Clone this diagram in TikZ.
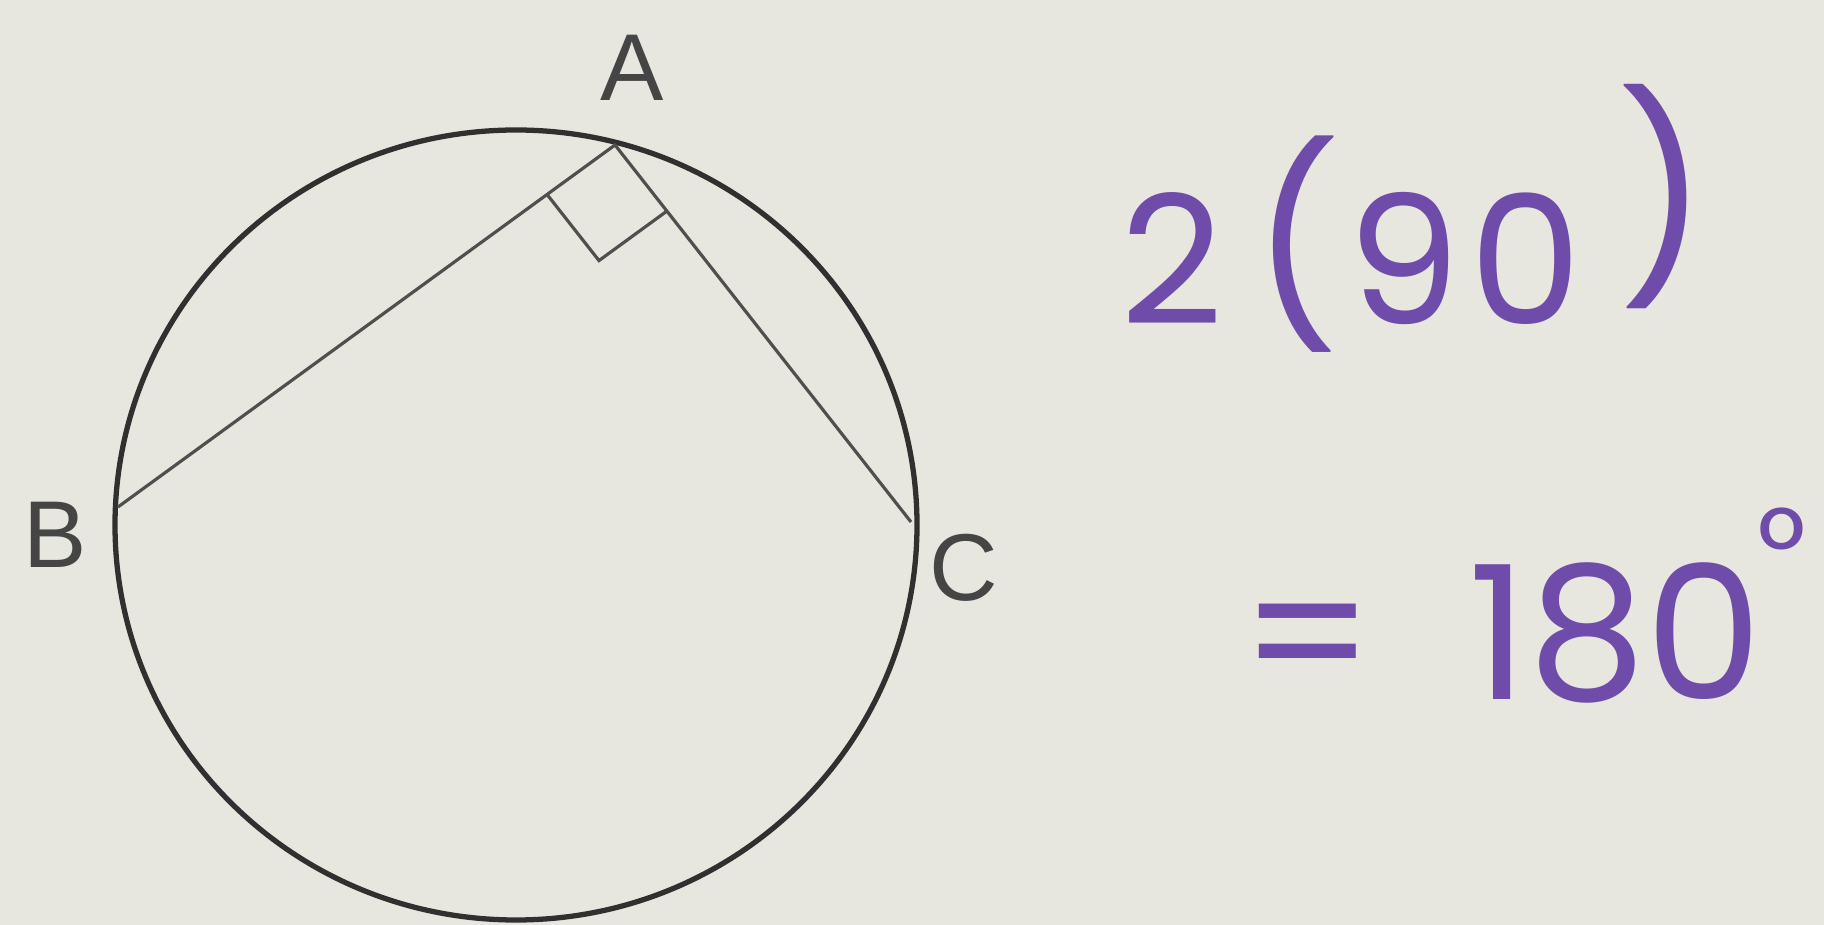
\documentclass[tikz,border=0pt]{standalone}
\usepackage{fontspec}
\setmainfont{Liberation Sans}
\newfontfamily\handfont{Poppins}
\usetikzlibrary{calc}
\definecolor{paper}{RGB}{231,231,223}
\definecolor{ink}{RGB}{48,48,48}
\definecolor{pen}{RGB}{112,76,170}
\tikzset{
  rim/.style={draw=ink, line width=1.5pt},
  chord/.style={draw=ink!85, line width=0.9pt},
  lbl/.style={text=ink!90, inner sep=0pt, font=\fontsize{27pt}{27pt}\selectfont},
  hand/.style={text=pen, inner sep=0pt, font=\handfont\fontsize{51pt}{51pt}\selectfont},
  handbig/.style={text=pen, inner sep=0pt, font=\handfont\fontsize{53pt}{53pt}\selectfont}
}
\begin{document}
\begin{tikzpicture}[x=0.01cm,y=-0.01cm]
\fill[paper] (0,0) rectangle (1824,925);
\useasboundingbox (0,0) rectangle (1824,925);
\coordinate (O) at (516,525);
\draw[rim] (O) ellipse [x radius=401, y radius=395];
\coordinate (A) at (615,145);
\coordinate (B) at (118,507);
\coordinate (C) at (911,522);
\draw[chord] (B) -- (A) -- (C);
\coordinate (P) at ($(A)!0.84cm!(B)$);
\coordinate (Q) at ($(A)!0.84cm!(C)$);
\coordinate (R) at ($(P)+(Q)-(A)$);
\draw[chord] (P) -- (R) -- (Q);
\node[lbl] (lA) at (632,68) {A};
\node[lbl] (lB) at (55,535) {B};
\node[lbl] (lC) at (964,568) {C};
\node[hand, anchor=base west] (eq1) at (1120,325) {2\hspace{0.16em}\raisebox{0.05em}{\fontsize{55pt}{55pt}\selectfont(}\hspace{0.04em}9\hspace{0.05em}0\hspace{0.2em}\raisebox{0.3em}{\fontsize{57pt}{57pt}\selectfont)}};
\node[handbig, anchor=base west] (eq2) at (1240,700) {=\hspace{0.5em}180\hspace{-0.03em}\raisebox{0.58em}{\fontsize{34pt}{34pt}\selectfont °}};
\end{tikzpicture}
\end{document}
